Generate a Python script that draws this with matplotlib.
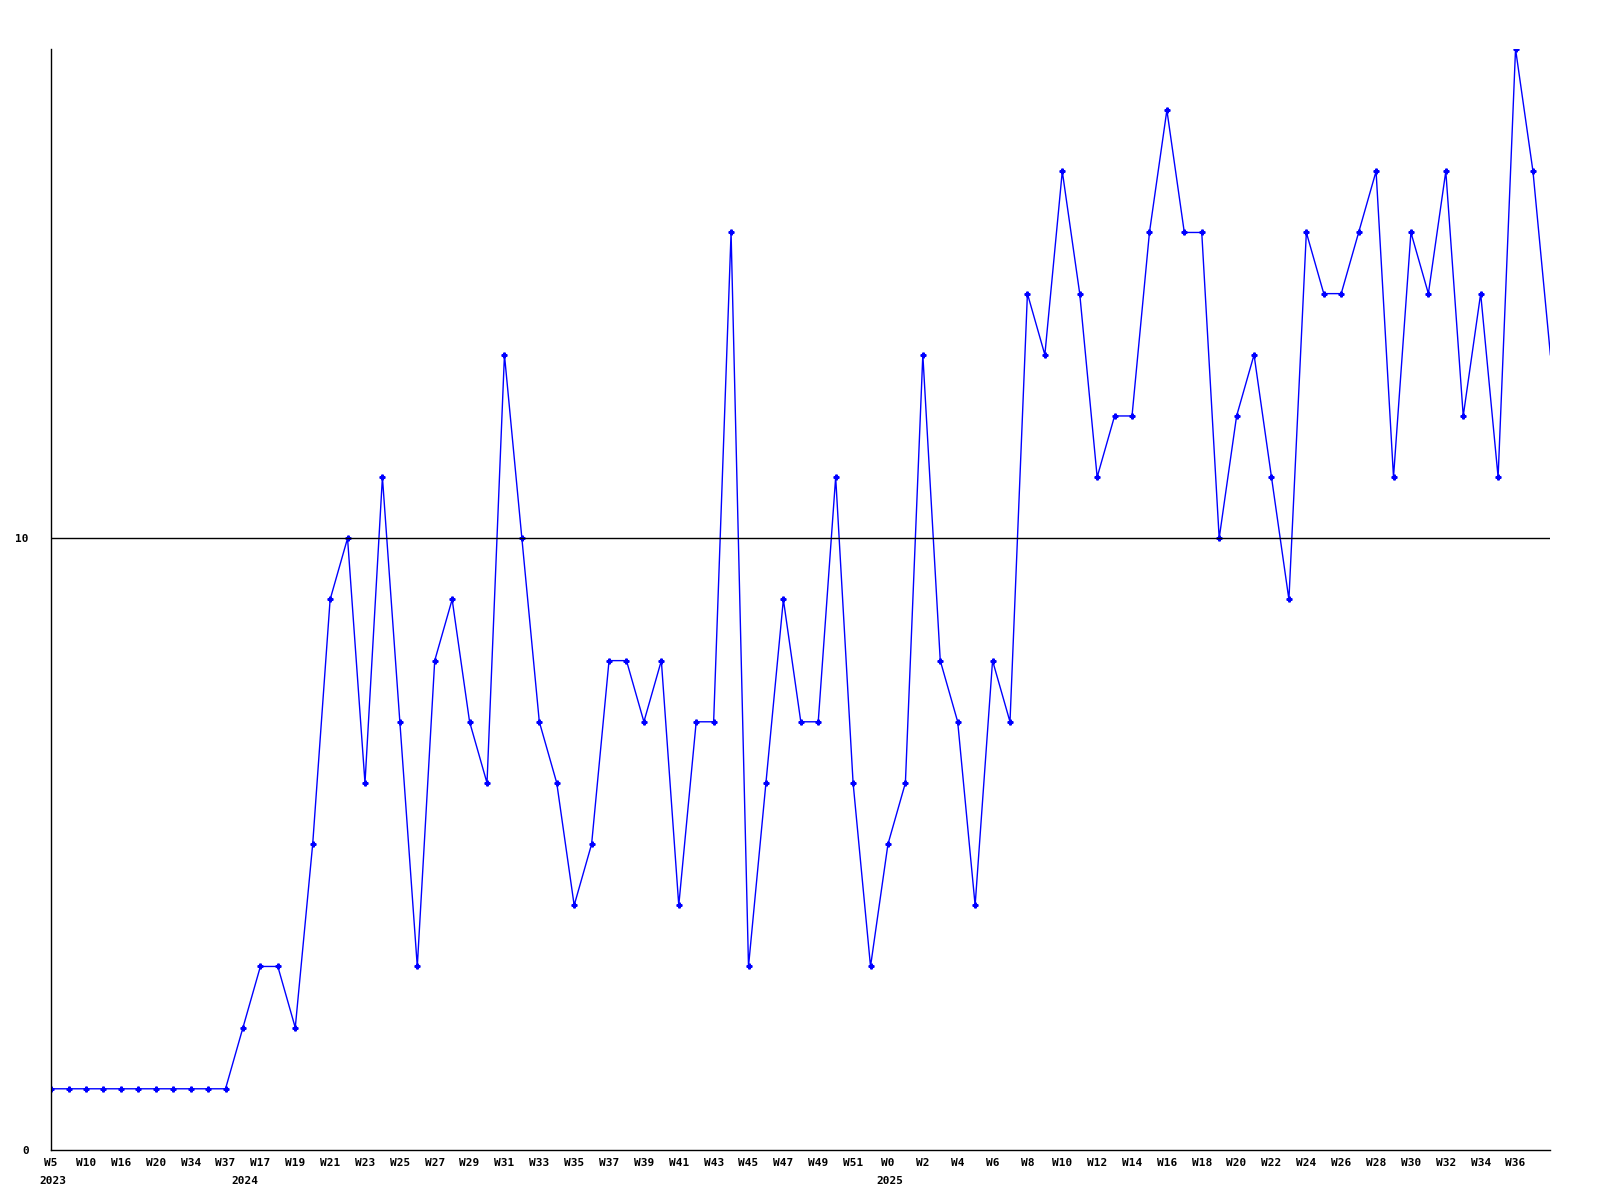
import matplotlib
matplotlib.use('Agg')
import matplotlib.pyplot as plt

# week labels per point (2023 -> 2024 -> 2025)
weeks_2023 = ['W5', 'W8', 'W10', 'W13', 'W16', 'W18', 'W20', 'W30', 'W34', 'W36', 'W37']
weeks_2024 = ['W%d' % w for w in range(16, 53)]
weeks_2025 = ['W%d' % w for w in range(0, 39)]
weeks = weeks_2023 + weeks_2024 + weeks_2025

values = [1, 1, 1, 1, 1, 1, 1, 1, 1, 1, 1,
          2, 3, 3, 2, 5, 9, 10, 6, 11, 7, 3, 8, 9, 7, 6, 13, 10, 7, 6,
          4, 5, 8, 8, 7, 8, 4, 7, 7, 15, 3, 6, 9, 7, 7, 11, 6, 3,
          5, 6, 13, 8, 7, 4, 8, 7, 14, 13, 16, 14, 11, 12, 12, 15, 17, 15,
          15, 10, 12, 13, 11, 9, 15, 14, 14, 15, 16, 11, 15, 14, 16, 12, 14,
          11, 18, 16, 13]

years = ['2023', '2024', '2025']
year_starts = [0, len(weeks_2023), len(weeks_2023) + len(weeks_2024)]

x = list(range(len(values)))

fig = plt.figure(figsize=(16, 12), dpi=100)
ax = fig.add_axes([0.032, 0.0417, 0.937, 0.9175])

ax.plot(x, values, color='#0000ff', linewidth=1.0, zorder=2)
# last point is drawn without a marker
ax.plot(x[:-1], values[:-1], linestyle='none', marker='P', markersize=3.5,
        color='#0000ff', zorder=2)
ax.axhline(10, color='black', linewidth=1.0, zorder=3)

ax.set_xlim(0, len(values) - 1)
ax.set_ylim(0, 18)

font = dict(family='DejaVu Sans Mono', fontweight='bold', fontsize=8)

ax.set_yticks([0, 10])
ax.set_yticklabels(['0', '10'], **font)
ax.set_xticks(x[:-1:2])
ax.set_xticklabels(weeks[:-1:2], **font)
ax.tick_params(length=0, pad=6)
ax.tick_params(axis='y', pad=16)

for yr, pos in zip(years, year_starts):
    ax.text(pos + 0.1, -0.42, yr, ha='center', va='top', **font)

for side in ['top', 'right']:
    ax.spines[side].set_visible(False)
ax.spines['left'].set_linewidth(1.0)
ax.spines['bottom'].set_linewidth(1.0)

plt.savefig('out.png', dpi=100)
